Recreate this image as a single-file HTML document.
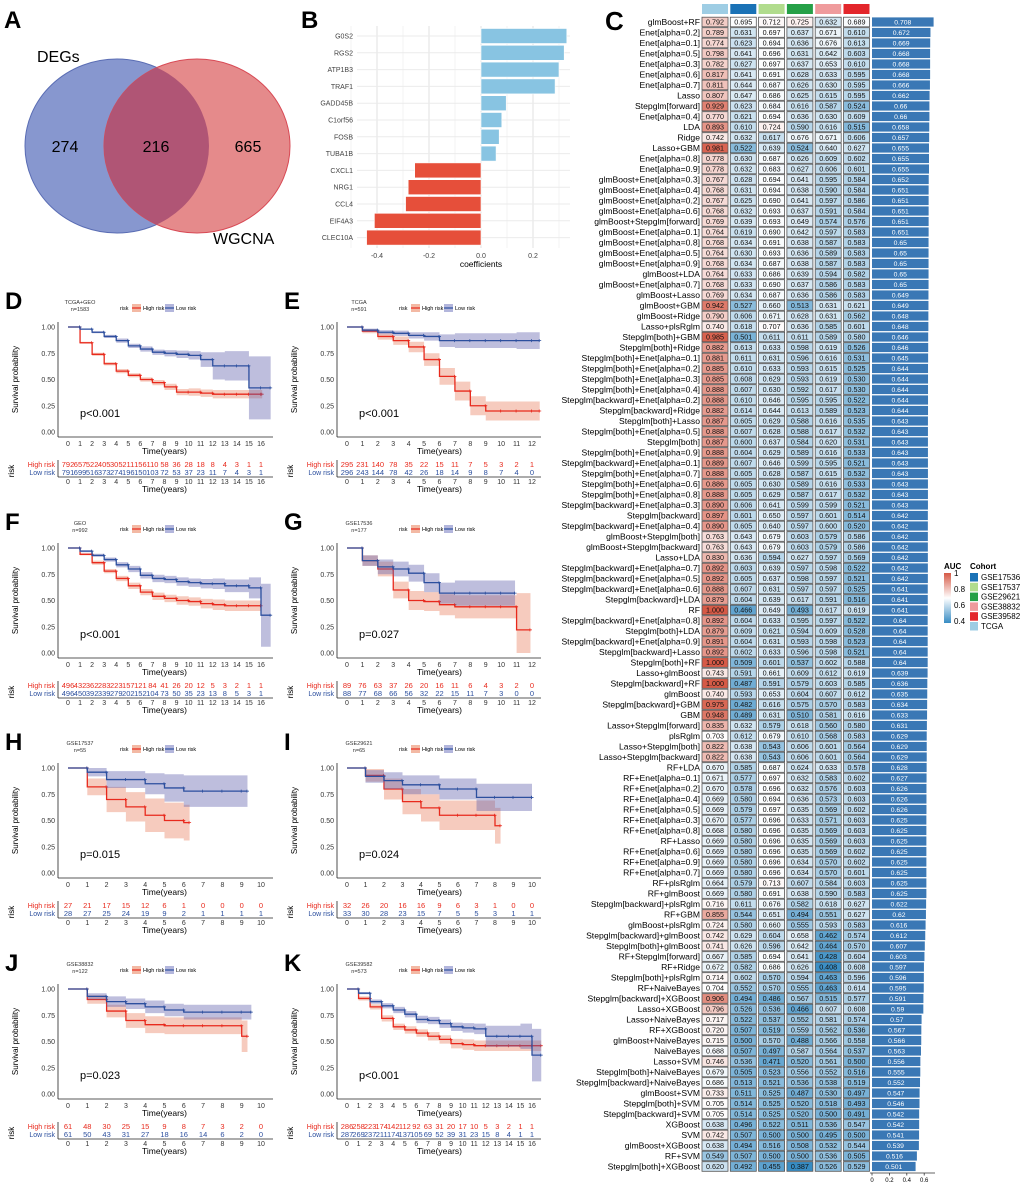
<!DOCTYPE html>
<html><head><meta charset="utf-8">
<style>
html,body{margin:0;padding:0;background:#fff;}
svg{display:block;font-family:"Liberation Sans",Arial,sans-serif;}
</style></head>
<body>
<svg id="fig" width="1020" height="1185" viewBox="0 0 1020 1185" xmlns="http://www.w3.org/2000/svg">
<!-- Panel A Venn -->
<g>
<text x="4" y="28" font-size="24" font-weight="bold">A</text>
<defs><clipPath id="clipBlue"><ellipse cx="117" cy="146" rx="92" ry="87"/></clipPath></defs>
<ellipse cx="117" cy="146" rx="92" ry="87" fill="#8797cf" stroke="#5a6db4" stroke-width="1"/>
<ellipse cx="197" cy="146" rx="93" ry="87" fill="#e58a8b" stroke="#d84a55" stroke-width="1"/>
<ellipse cx="197" cy="146" rx="93" ry="87" fill="#b05575" clip-path="url(#clipBlue)"/>
<text x="37" y="62" font-size="16">DEGs</text>
<text x="65" y="152" font-size="16" text-anchor="middle">274</text>
<text x="156" y="152" font-size="16" text-anchor="middle">216</text>
<text x="248" y="152" font-size="16" text-anchor="middle">665</text>
<text x="213" y="244" font-size="16">WGCNA</text>
</g>
<g id="panelB">
<text x="301" y="28" font-size="24" font-weight="bold">B</text>
</g>
<g id="panelC">
<text x="605" y="30" font-size="26" font-weight="bold">C</text>
</g>
<g id="km"></g>
</svg>
<script>
// ---------- Panel B data ----------
const genes = ["G0S2","RGS2","ATP1B3","TRAF1","GADD45B","C1orf56","FOSB","TUBA1B","CXCL1","NRG1","CCL4","EIF4A3","CLEC10A"];
const coefs = [0.33,0.32,0.30,0.285,0.097,0.08,0.07,0.058,-0.255,-0.28,-0.29,-0.41,-0.44];
const coefTicks = [-0.4,-0.2,0.0,0.2];

// ---------- Panel C data ----------
const methods = ["glmBoost+RF","Enet[alpha=0.2]","Enet[alpha=0.1]","Enet[alpha=0.5]","Enet[alpha=0.3]","Enet[alpha=0.6]","Enet[alpha=0.7]","Lasso","Stepglm[forward]","Enet[alpha=0.4]",
"LDA","Ridge","Lasso+GBM","Enet[alpha=0.8]","Enet[alpha=0.9]","glmBoost+Enet[alpha=0.3]","glmBoost+Enet[alpha=0.4]","glmBoost+Enet[alpha=0.2]","glmBoost+Enet[alpha=0.6]","glmBoost+Stepglm[forward]",
"glmBoost+Enet[alpha=0.1]","glmBoost+Enet[alpha=0.8]","glmBoost+Enet[alpha=0.5]","glmBoost+Enet[alpha=0.9]","glmBoost+LDA","glmBoost+Enet[alpha=0.7]","glmBoost+Lasso","glmBoost+GBM","glmBoost+Ridge","Lasso+plsRglm",
"Stepglm[both]+GBM","Stepglm[both]+Ridge","Stepglm[both]+Enet[alpha=0.1]","Stepglm[both]+Enet[alpha=0.2]","Stepglm[both]+Enet[alpha=0.3]","Stepglm[both]+Enet[alpha=0.4]","Stepglm[backward]+Enet[alpha=0.2]","Stepglm[backward]+Ridge","Stepglm[both]+Lasso","Stepglm[both]+Enet[alpha=0.5]",
"Stepglm[both]","Stepglm[both]+Enet[alpha=0.9]","Stepglm[backward]+Enet[alpha=0.1]","Stepglm[both]+Enet[alpha=0.7]","Stepglm[both]+Enet[alpha=0.6]","Stepglm[both]+Enet[alpha=0.8]","Stepglm[backward]+Enet[alpha=0.3]","Stepglm[backward]","Stepglm[backward]+Enet[alpha=0.4]","glmBoost+Stepglm[both]",
"glmBoost+Stepglm[backward]","Lasso+LDA","Stepglm[backward]+Enet[alpha=0.7]","Stepglm[backward]+Enet[alpha=0.5]","Stepglm[backward]+Enet[alpha=0.6]","Stepglm[backward]+LDA","RF","Stepglm[backward]+Enet[alpha=0.8]","Stepglm[both]+LDA","Stepglm[backward]+Enet[alpha=0.9]",
"Stepglm[backward]+Lasso","Stepglm[both]+RF","Lasso+glmBoost","Stepglm[backward]+RF","glmBoost","Stepglm[backward]+GBM","GBM","Lasso+Stepglm[forward]","plsRglm","Lasso+Stepglm[both]",
"Lasso+Stepglm[backward]","RF+LDA","RF+Enet[alpha=0.1]","RF+Enet[alpha=0.2]","RF+Enet[alpha=0.4]","RF+Enet[alpha=0.5]","RF+Enet[alpha=0.3]","RF+Enet[alpha=0.8]","RF+Lasso","RF+Enet[alpha=0.6]",
"RF+Enet[alpha=0.9]","RF+Enet[alpha=0.7]","RF+plsRglm","RF+glmBoost","Stepglm[backward]+plsRglm","RF+GBM","glmBoost+plsRglm","Stepglm[backward]+glmBoost","Stepglm[both]+glmBoost","RF+Stepglm[forward]",
"RF+Ridge","Stepglm[both]+plsRglm","RF+NaiveBayes","Stepglm[backward]+XGBoost","Lasso+XGBoost","Lasso+NaiveBayes","RF+XGBoost","glmBoost+NaiveBayes","NaiveBayes","Lasso+SVM",
"Stepglm[both]+NaiveBayes","Stepglm[backward]+NaiveBayes","glmBoost+SVM","Stepglm[both]+SVM","Stepglm[backward]+SVM","XGBoost","SVM","glmBoost+XGBoost","RF+SVM","Stepglm[both]+XGBoost"];
const aucTCGA = [.792,.789,.774,.798,.782,.817,.811,.807,.929,.770,.893,.742,.981,.778,.778,.767,.768,.767,.768,.769,.764,.768,.764,.768,.764,.768,.769,.942,.790,.740,.985,.882,.881,.885,.885,.888,.888,.882,.887,.888,.887,.888,.889,.888,.886,.888,.890,.897,.890,.763,.763,.830,.892,.892,.888,.879,1.000,.892,.879,.891,.892,1.000,.743,1.000,.740,.975,.948,.835,.703,.822,.822,.670,.671,.670,.669,.669,.670,.668,.669,.669,.669,.669,.664,.669,.716,.855,.724,.742,.741,.667,.672,.714,.704,.906,.796,.717,.720,.715,.688,.746,.679,.686,.733,.705,.705,.638,.742,.638,.549,.620];
const aucGSE17536 = [.695,.631,.623,.641,.627,.641,.644,.647,.623,.621,.610,.632,.522,.630,.632,.628,.631,.625,.632,.639,.619,.634,.630,.634,.633,.633,.634,.527,.606,.618,.501,.613,.611,.610,.608,.607,.610,.614,.605,.607,.600,.604,.607,.605,.605,.605,.606,.601,.605,.643,.643,.636,.603,.605,.607,.604,.466,.604,.609,.604,.602,.509,.591,.487,.593,.482,.489,.632,.612,.638,.638,.585,.577,.578,.580,.579,.577,.580,.580,.580,.580,.580,.579,.580,.611,.544,.580,.629,.626,.585,.582,.602,.552,.494,.526,.522,.507,.500,.507,.536,.505,.513,.511,.514,.514,.496,.507,.494,.507,.492];
const aucGSE17537 = [.712,.697,.694,.696,.697,.691,.687,.686,.684,.694,.724,.617,.639,.687,.683,.694,.694,.690,.693,.693,.690,.691,.693,.687,.686,.690,.687,.660,.671,.707,.611,.633,.631,.633,.629,.630,.646,.644,.629,.628,.637,.629,.646,.628,.630,.629,.641,.650,.640,.679,.679,.594,.639,.637,.631,.639,.649,.633,.621,.631,.633,.601,.661,.591,.653,.616,.631,.579,.679,.543,.543,.687,.697,.696,.694,.697,.696,.696,.696,.696,.696,.696,.713,.691,.676,.651,.660,.604,.596,.694,.686,.570,.570,.486,.536,.537,.519,.570,.497,.471,.523,.521,.525,.525,.525,.522,.500,.516,.500,.455];
const aucGSE29621 = [.725,.637,.636,.631,.637,.628,.626,.625,.616,.636,.590,.676,.524,.626,.627,.641,.638,.641,.637,.649,.642,.638,.636,.638,.639,.637,.636,.513,.628,.636,.611,.598,.596,.593,.593,.592,.595,.613,.588,.588,.584,.589,.599,.587,.589,.587,.599,.597,.597,.603,.603,.627,.597,.598,.597,.617,.493,.595,.594,.593,.596,.537,.609,.579,.604,.575,.510,.618,.610,.606,.606,.624,.632,.632,.636,.635,.633,.635,.635,.635,.634,.634,.607,.638,.582,.494,.555,.658,.642,.641,.626,.594,.555,.567,.466,.552,.559,.488,.587,.520,.556,.536,.487,.520,.520,.511,.500,.508,.500,.387];
const aucGSE38832 = [.632,.671,.676,.642,.653,.633,.630,.615,.587,.630,.616,.671,.640,.609,.606,.595,.590,.597,.591,.574,.597,.587,.589,.587,.594,.586,.586,.631,.631,.585,.589,.619,.616,.615,.619,.617,.595,.589,.616,.617,.620,.616,.595,.615,.616,.617,.599,.601,.600,.579,.579,.597,.598,.597,.597,.591,.617,.597,.609,.598,.598,.602,.612,.603,.607,.570,.581,.560,.568,.601,.601,.633,.583,.576,.573,.569,.571,.569,.569,.569,.570,.570,.584,.590,.618,.551,.593,.462,.464,.428,.408,.463,.463,.515,.607,.581,.562,.566,.564,.561,.552,.538,.530,.518,.500,.536,.495,.532,.536,.526];
const aucGSE39582 = [.689,.610,.613,.603,.610,.595,.595,.595,.524,.609,.515,.606,.627,.602,.601,.584,.584,.586,.584,.576,.583,.583,.583,.583,.582,.583,.583,.621,.562,.601,.580,.526,.531,.525,.530,.530,.522,.523,.535,.532,.531,.533,.521,.532,.533,.532,.521,.514,.520,.586,.586,.569,.522,.521,.525,.516,.619,.522,.528,.523,.521,.588,.619,.585,.612,.583,.616,.580,.583,.564,.564,.578,.602,.603,.603,.602,.603,.603,.603,.602,.602,.601,.603,.583,.627,.627,.583,.574,.570,.604,.608,.596,.614,.577,.608,.574,.536,.558,.537,.500,.516,.519,.497,.493,.491,.547,.500,.544,.505,.529];
const meanAuc = [.708,.672,.669,.668,.668,.668,.666,.662,.66,.66,.658,.657,.655,.655,.655,.652,.651,.651,.651,.651,.651,.65,.65,.65,.65,.65,.649,.649,.648,.648,.646,.646,.645,.644,.644,.644,.644,.644,.643,.643,.643,.643,.643,.643,.643,.643,.643,.642,.642,.642,.642,.642,.642,.642,.641,.641,.641,.64,.64,.64,.64,.64,.639,.636,.635,.634,.633,.631,.629,.629,.629,.628,.627,.626,.626,.626,.625,.625,.625,.625,.625,.625,.625,.625,.622,.62,.616,.612,.607,.603,.597,.596,.595,.591,.59,.57,.567,.566,.563,.556,.555,.552,.547,.546,.542,.542,.541,.539,.516,.501];
const cohorts = ["TCGA","GSE17536","GSE17537","GSE29621","GSE38832","GSE39582"];
const legendCohorts = ["GSE17536","GSE17537","GSE29621","GSE38832","GSE39582","TCGA"];
const meanTicks = [0,0.2,0.4,0.6];
const aucLegendTicks = [1,0.8,0.6,0.4];

// ---------- KM data (survival at integer years) ----------
const dTicks=[0,1,2,3,4,5,6,7,8,9,10,11,12,13,14,15,16];
const dHigh=[1,.85,.74,.65,.58,.54,.50,.47,.43,.38,.38,.37,.36,.36,.36,.36,.36];
const dLow=[1,.98,.95,.91,.87,.82,.79,.76,.75,.74,.73,.69,.63,.63,.63,.42,.42];
const dHighCI=[0,.01,.015,.015,.02,.02,.02,.025,.03,.03,.035,.035,.04,.04,.04,.04,.04];
const dLowCI=[0,.005,.01,.015,.02,.02,.025,.025,.03,.035,.04,.07,.13,.14,.14,.3,.3];
const dRiskHigh=[792,657,522,405,305,211,156,110,58,36,28,18,8,4,3,1,1];
const dRiskLow=[791,699,516,373,274,196,150,103,72,53,37,23,11,7,4,3,1];

const eTicks=[0,1,2,3,4,5,6,7,8,9,10,11,12];
const eHigh=[1,.96,.91,.87,.81,.69,.53,.39,.25,.20,.20,.20,.20];
const eLow=[1,.97,.95,.94,.92,.91,.87,.87,.87,.87,.87,.87,.87];
const eHighCI=[0,.02,.03,.04,.05,.06,.08,.09,.09,.09,.09,.09,.09];
const eLowCI=[0,.015,.02,.025,.03,.04,.06,.07,.07,.07,.07,.08,.08];
const eRiskHigh=[295,231,140,78,35,22,15,11,7,5,3,2,1];
const eRiskLow=[296,243,144,78,42,26,18,14,9,8,7,4,0];

const fTicks=[0,1,2,3,4,5,6,7,8,9,10,11,12,13,14,15,16];
const fHigh=[1,.94,.86,.78,.71,.64,.58,.54,.52,.50,.49,.47,.46,.45,.45,.45,.45];
const fLow=[1,.97,.93,.89,.84,.80,.74,.71,.70,.68,.67,.66,.66,.64,.64,.62,.36];
const fHighCI=[0,.01,.02,.02,.025,.03,.03,.035,.035,.04,.04,.045,.05,.05,.05,.05,.05];
const fLowCI=[0,.01,.015,.02,.025,.03,.03,.035,.035,.04,.04,.045,.05,.06,.06,.1,.3];
const fRiskHigh=[496,432,362,283,223,157,121,84,41,26,20,12,5,3,2,1,1];
const fRiskLow=[496,450,392,339,279,202,152,104,73,50,35,23,13,8,5,3,1];

const gTicks=[0,1,2,3,4,5,6,7,8,9,10,11,12];
const gHigh=[1,.88,.80,.60,.50,.49,.46,.44,.44,.44,.44,.22,.22];
const gLow=[1,.88,.82,.80,.76,.67,.57,.57,.57,.57,.57,.57,.57];
const gHighCI=[0,.05,.07,.08,.09,.09,.1,.11,.11,.11,.11,.35,.35];
const gLowCI=[0,.05,.07,.07,.08,.09,.1,.12,.12,.12,.12,.12,.12];
const gRiskHigh=[89,76,63,37,26,20,16,11,6,4,3,2,0];
const gRiskLow=[88,77,68,66,56,32,22,15,11,7,3,0,0];

const hTicks=[0,1,2,3,4,5,6,7,8,9,10];
const hHigh=[1,.82,.70,.63,.55,.50,.48,.48,.48,.48,.48];
const hLow=[1,.96,.89,.89,.85,.81,.78,.78,.78,.78,.78];
const hHighCI=[0,.08,.12,.14,.16,.17,.17,.17,.17,.17,.17];
const hLowCI=[0,.04,.08,.08,.1,.13,.15,.15,.15,.15,.16];
const hRiskHigh=[27,21,17,15,12,6,1,0,0,0,0];
const hRiskLow=[28,27,25,24,19,9,2,1,1,1,1];

const iTicks=[0,1,2,3,4,5,6,7,8,9,10];
const iHigh=[1,.93,.80,.68,.62,.55,.55,.55,.45,.20,.20];
const iLow=[1,.92,.88,.84,.84,.80,.80,.72,.72,.72,.72];
const iHighCI=[0,.06,.1,.12,.13,.14,.14,.14,.17,.2,.2];
const iLowCI=[0,.06,.08,.09,.09,.1,.1,.13,.13,.13,.13];
const iRiskHigh=[32,26,20,16,16,9,6,3,1,0,0];
const iRiskLow=[33,30,28,23,15,7,5,5,3,1,1];

const jTicks=[0,1,2,3,4,5,6,7,8,9,10];
const jHigh=[1,.90,.79,.70,.66,.65,.65,.65,.65,.55,.55];
const jLow=[1,.93,.88,.86,.83,.80,.78,.78,.78,.78,.78];
const jHighCI=[0,.04,.06,.07,.08,.08,.08,.08,.08,.15,.15];
const jLowCI=[0,.03,.05,.05,.06,.06,.07,.07,.07,.07,.07];
const jRiskHigh=[61,48,30,25,15,9,8,7,3,2,0];
const jRiskLow=[61,50,43,31,27,18,16,14,6,2,0];

const kTicks=[0,1,2,3,4,5,6,7,8,9,10,11,12,13,14,15,16];
const kHigh=[1,.91,.83,.72,.64,.61,.58,.55,.52,.48,.47,.46,.46,.46,.46,.46,.46];
const kLow=[1,.96,.88,.84,.80,.76,.71,.70,.67,.64,.63,.62,.55,.55,.55,.55,.37];
const kHighCI=[0,.02,.025,.03,.03,.035,.035,.04,.04,.045,.05,.05,.05,.05,.05,.05,.05];
const kLowCI=[0,.01,.02,.025,.03,.03,.035,.035,.04,.04,.045,.05,.1,.1,.1,.12,.25];
const kRiskHigh=[286,258,223,174,142,112,92,63,31,20,17,10,5,3,2,1,1];
const kRiskLow=[287,269,237,211,174,137,105,69,52,39,31,23,15,8,4,1,1];

const NS="http://www.w3.org/2000/svg";
function mk(tag,attrs,parent,text){const e=document.createElementNS(NS,tag);for(const k in attrs)e.setAttribute(k,attrs[k]);if(text!==undefined)e.textContent=text;parent.appendChild(e);return e;}

// ---------- Panel B ----------
(function(){
  const g=document.getElementById('panelB');
  const zeroX=481, scale=260, top0=36, pitch=16.8, left=357, right=570;
  const xs=v=>zeroX+v*scale;
  const ys=i=>top0+i*pitch;
  for(let v=-0.5;v<=0.35;v+=0.1){const gl=mk('line',{x1:xs(v),x2:xs(v),y1:26,y2:248,stroke:'#ebebeb','stroke-width':0.6},g);
    
    }
  coefTicks.forEach(t=>{const gl=mk('line',{x1:xs(t),x2:xs(t),y1:26,y2:248,stroke:'#e2e2e2','stroke-width':1},g);
    
    
    const tl=mk('text',{x:xs(t),y:258,'font-size':7,'text-anchor':'middle',fill:'#444'},g,t.toFixed(1));
    
    });
  genes.forEach((gn,i)=>{
    const hl=mk('line',{x1:left,x2:right,y1:ys(i),y2:ys(i),stroke:'#ebebeb','stroke-width':1},g);
    
    
    const v=coefs[i];
    const r=mk('rect',{x:Math.min(xs(0),xs(v)),y:ys(i)-7.5,width:Math.abs(xs(v)-xs(0)),height:15,fill:v>0?'#88c4e2':'#e64f3a',stroke:'#fff','stroke-width':0.6},g);
    
    
    const t=mk('text',{x:353,y:ys(i)+2.5,'font-size':7,'text-anchor':'end',fill:'#444'},g,gn);
    
    
  });
  const xt=mk('text',{x:481,y:267,'font-size':8.5,'text-anchor':'middle'},g,'coefficients');
  
  
})();

// ---------- Panel C ----------
function aucColor(v){
  const mix=(a,b,f)=>a.map((c,i)=>Math.round(c+(b[i]-c)*f));
  let c;
  if(v>=0.7){c=mix([255,255,255],[214,90,70],Math.min(1,(v-0.7)/0.3));}
  else{c=mix([255,255,255],[55,140,195],Math.min(1,(0.7-v)/0.3));}
  return 'rgb('+c.join(',')+')';
}
(function(){
  const g=document.getElementById('panelC');
  const colX=[702,730.3,758.6,786.9,815.2,843.5], cw=26, y0=22, pitch=10.5, ch=9.6;
  const headCol={"TCGA":"#9ecde4","GSE17536":"#1a72b6","GSE17537":"#b1dc8d","GSE29621":"#26a047","GSE38832":"#ef9b9c","GSE39582":"#e3262b"};
  const cols=[aucTCGA,aucGSE17536,aucGSE17537,aucGSE29621,aucGSE38832,aucGSE39582];
  const ys=i=>y0+i*pitch;
  const bx=v=>872+v*87;
  cohorts.forEach((c,j)=>{const r=mk('rect',{x:colX[j],y:4,width:cw,height:10,fill:headCol[c]},g);
    
    });
  methods.forEach((m,i)=>{
    const y=ys(i);
    const t=mk('text',{x:700,y:y+3,'font-size':8.6,'text-anchor':'end'},g,m);
    
    
    cols.forEach((col,j)=>{
      const r=mk('rect',{x:colX[j],y:y-ch/2,width:cw,height:ch,fill:aucColor(col[i]),stroke:'#555','stroke-width':0.8},g);
      
      
      const tx=mk('text',{x:colX[j]+cw/2,y:y+2.6,'font-size':7.2,'text-anchor':'middle',fill:'#111'},g,col[i].toFixed(3));
      
      
    });
    const b=mk('rect',{x:872,y:y-4.6,width:bx(meanAuc[i])-872,height:9.2,fill:'#3a78b5'},g);
    
    
    const bt=mk('text',{x:(872+bx(meanAuc[i]))/2,y:y+2.5,'font-size':6.8,'text-anchor':'middle',fill:'#fff'},g,String(meanAuc[i]));
    
    
  });
  const ax=mk('line',{x1:870,x2:935,y1:1173,y2:1173,stroke:'#333','stroke-width':0.8},g);
  
  
  meanTicks.forEach(t=>{const tk=mk('line',{x1:bx(t),x2:bx(t),y1:1173,y2:1175.5,stroke:'#333','stroke-width':0.8},g);
    
    
    const tl=mk('text',{x:bx(t),y:1182,'font-size':6,'text-anchor':'middle'},g,String(t));
    
    });
  // legend
  const at=mk('text',{x:944,y:569,'font-size':8,'font-weight':'bold'},g,'AUC');
  
  
  const defs=mk('defs',{},g);
  const lg=mk('linearGradient',{id:'aucGrad',x1:0,y1:0,x2:0,y2:1},defs);
  [[0,1],[0.5,0.7],[1,0.4]].forEach(([o,v])=>mk('stop',{offset:o,'stop-color':aucColor(v)},lg));
  const gb=mk('rect',{x:944,y:573,width:7,height:50,fill:'url(#aucGrad)'},g);
  
  
  aucLegendTicks.forEach(v=>{const y=573+(1-v)/0.6*48;
    const tl=mk('text',{x:954,y:y+3,'font-size':8},g,String(v));
    
    });
  const ct=mk('text',{x:970,y:569,'font-size':8,'font-weight':'bold'},g,'Cohort');
  
  
  legendCohorts.forEach((c,k)=>{const y=573+k*9.8;
    const sq=mk('rect',{x:970,y:y,width:8,height:8.5,fill:headCol[c]},g);
    
    
    const tl=mk('text',{x:981,y:y+7,'font-size':8},g,c);
    
    });
})();

// ---------- KM panels ----------
const panels=[
 {L:'D',title:'TCGA+GEO',n:'n=1583',p:'p<0.001',col:0,top:327,ticks:dTicks,hi:dHigh,lo:dLow,hiCI:dHighCI,loCI:dLowCI,rh:dRiskHigh,rl:dRiskLow,hiEnd:16.1,loEnd:16.8},
 {L:'E',title:'TCGA',n:'n=591',p:'p<0.001',col:1,top:327,ticks:eTicks,hi:eHigh,lo:eLow,hiCI:eHighCI,loCI:eLowCI,rh:eRiskHigh,rl:eRiskLow,hiEnd:12.5,loEnd:12.5},
 {L:'F',title:'GEO',n:'n=992',p:'p<0.001',col:0,top:548,ticks:fTicks,hi:fHigh,lo:fLow,hiCI:fHighCI,loCI:fLowCI,rh:fRiskHigh,rl:fRiskLow,hiEnd:16,loEnd:16.8},
 {L:'G',title:'GSE17536',n:'n=177',p:'p=0.027',col:1,top:548,ticks:gTicks,hi:gHigh,lo:gLow,hiCI:gHighCI,loCI:gLowCI,rh:gRiskHigh,rl:gRiskLow,hiEnd:11.9,loEnd:10.9},
 {L:'H',title:'GSE17537',n:'n=55',p:'p=0.015',col:0,top:768,ticks:hTicks,hi:hHigh,lo:hLow,hiCI:hHighCI,loCI:hLowCI,rh:hRiskHigh,rl:hRiskLow,hiEnd:6.3,loEnd:9.3},
 {L:'I',title:'GSE29621',n:'n=65',p:'p=0.024',col:1,top:768,ticks:iTicks,hi:iHigh,lo:iLow,hiCI:iHighCI,loCI:iLowCI,rh:iRiskHigh,rl:iRiskLow,hiEnd:8.3,loEnd:10},
 {L:'J',title:'GSE38832',n:'n=122',p:'p=0.023',col:0,top:989,ticks:jTicks,hi:jHigh,lo:jLow,hiCI:jHighCI,loCI:jLowCI,rh:jRiskHigh,rl:jRiskLow,hiEnd:9.3,loEnd:9.5},
 {L:'K',title:'GSE39582',n:'n=573',p:'p<0.001',col:1,top:989,ticks:kTicks,hi:kHigh,lo:kLow,hiCI:kHighCI,loCI:kLowCI,rh:kRiskHigh,rl:kRiskLow,hiEnd:16.8,loEnd:16.8}
];
panels.forEach(P=>{
  const root=document.getElementById('km');
  const g=mk('g',{},root);
  
  
  const off=P.col?279:0;
  const axX=58+off, x0=68+off, right=(P.col?541:273);
  const maxT=P.ticks[P.ticks.length-1];
  const xEnd=P.col?532:261;
  const xs=t=>x0+t*(xEnd-x0)/maxT;
  const top=P.top, bot=top+105;
  const ys=s=>bot-s*(bot-top);
  const lab=mk('text',{x:5+off,y:top-18,'font-size':24,'font-weight':'bold'},g,P.L);
  
  
  const t1=mk('text',{x:80+off,y:top-23,'font-size':5.5,'text-anchor':'middle',fill:'#333'},g,P.title);
  
  
  const t2=mk('text',{x:80+off,y:top-16,'font-size':5.5,'text-anchor':'middle',fill:'#333'},g,P.n);
  
  
  // legend
  const lx=120+off, ly=top-19;
  const lt=mk('text',{x:lx,y:ly+2,'font-size':5.5},g,'risk');
  
  
  [['High risk','#f3b9a4','#e8291c',lx+12],['Low risk','#b3b6dc','#2c4f9e',lx+45]].forEach(([nm,bg,lc,x])=>{
    const r=mk('rect',{x:x,y:ly-4,width:9,height:8,fill:bg},g);
    
    
    const l=mk('line',{x1:x,x2:x+9,y1:ly,y2:ly,stroke:lc,'stroke-width':1.2},g);
    
    
    const tt=mk('text',{x:x+11,y:ly+2,'font-size':5.5},g,nm);
    
    
  });
  // bands & curves
  function drawSeries(S,CI,end,band,line,name){
    let up=[],dn=[],pts=[];
    for(let i=0;i<S.length;i++){
      const t0=P.ticks[i]; if(t0>end)break;
      const t1=Math.min(i+1<S.length?P.ticks[i+1]:end,end);
      const hiV=Math.min(1,S[i]+CI[i]), loV=Math.max(0,S[i]-CI[i]);
      up.push([xs(t0),ys(hiV)],[xs(t1),ys(hiV)]);
      dn.push([xs(t0),ys(loV)],[xs(t1),ys(loV)]);
      pts.push([xs(t0),ys(S[i])],[xs(t1),ys(S[i])]);
    }
    const poly=up.concat(dn.reverse()).map(p=>p.join(',')).join(' ');
    const b=mk('polygon',{points:poly,fill:band},g);
    
    
    const c=mk('polyline',{points:pts.map(p=>p.join(',')).join(' '),fill:'none',stroke:line,'stroke-width':1.3},g);
    
    
    for(let k=1;k<pts.length;k+=2){const [x,y]=pts[k];
      const m=mk('path',{d:`M${x-1.5},${y}h3M${x-0.5},${y-1.5}v3`,stroke:line,'stroke-width':0.8},g);
      
      }
  }
  drawSeries(P.hi,P.hiCI,P.hiEnd,'rgba(233,130,100,0.42)','#e8291c','high-risk');
  drawSeries(P.lo,P.loCI,P.loEnd,'rgba(100,100,175,0.42)','#2c4f9e','low-risk');
  // axes
  const ya=mk('line',{x1:axX,x2:axX,y1:top-5,y2:bot+5,stroke:'#222','stroke-width':0.8},g);
  
  
  const xa=mk('line',{x1:axX,x2:right,y1:bot+5,y2:bot+5,stroke:'#222','stroke-width':0.8},g);
  
  
  [0,0.25,0.5,0.75,1].forEach(v=>{
    const tl=mk('text',{x:axX-3,y:ys(v)+2.5,'font-size':7,'text-anchor':'end',fill:'#333'},g,v.toFixed(2));
    
    
  });
  const yt=mk('text',{x:axX-40,y:(top+bot)/2,'font-size':8,'text-anchor':'middle',transform:`rotate(-90 ${axX-40} ${(top+bot)/2})`},g,'Survival probability');
  
  
  const pv=mk('text',{x:x0+12,y:bot-15,'font-size':11},g,P.p);
  
  
  P.ticks.forEach(t=>{
    const tl=mk('text',{x:xs(t),y:bot+14,'font-size':7,'text-anchor':'middle',fill:'#333'},g,String(t));
    
    
    const tl2=mk('text',{x:xs(t),y:bot+52,'font-size':7,'text-anchor':'middle',fill:'#333'},g,String(t));
    
    
    const i=P.ticks.indexOf(t);
    const rh=mk('text',{x:xs(t),y:bot+35,'font-size':7.5,'text-anchor':'middle',fill:'#e8291c'},g,String(P.rh[i]));
    
    
    const rl=mk('text',{x:xs(t),y:bot+43,'font-size':7.5,'text-anchor':'middle',fill:'#2c4f9e'},g,String(P.rl[i]));
    
    
  });
  const xt=mk('text',{x:(x0+xEnd)/2,y:bot+22,'font-size':8.5,'text-anchor':'middle'},g,'Time(years)');
  
  
  const xt2=mk('text',{x:(x0+xEnd)/2,y:bot+60,'font-size':8.5,'text-anchor':'middle'},g,'Time(years)');
  
  
  const rlh=mk('text',{x:axX-3,y:bot+35,'font-size':7,'text-anchor':'end',fill:'#e8291c'},g,'High risk');
  
  
  const rll=mk('text',{x:axX-3,y:bot+43,'font-size':7,'text-anchor':'end',fill:'#2c4f9e'},g,'Low risk');
  
  
  const rv=mk('line',{x1:axX,x2:axX,y1:bot+28,y2:bot+45,stroke:'#222','stroke-width':0.8},g);
  
  
  const rb=mk('line',{x1:axX,x2:right,y1:bot+45,y2:bot+45,stroke:'#222','stroke-width':0.8},g);
  
  
  const rt=mk('text',{x:axX-44,y:bot+39,'font-size':8,'text-anchor':'middle',transform:`rotate(-90 ${axX-44} ${bot+39})`},g,'risk');
  
  
});
</script>
</body></html>
